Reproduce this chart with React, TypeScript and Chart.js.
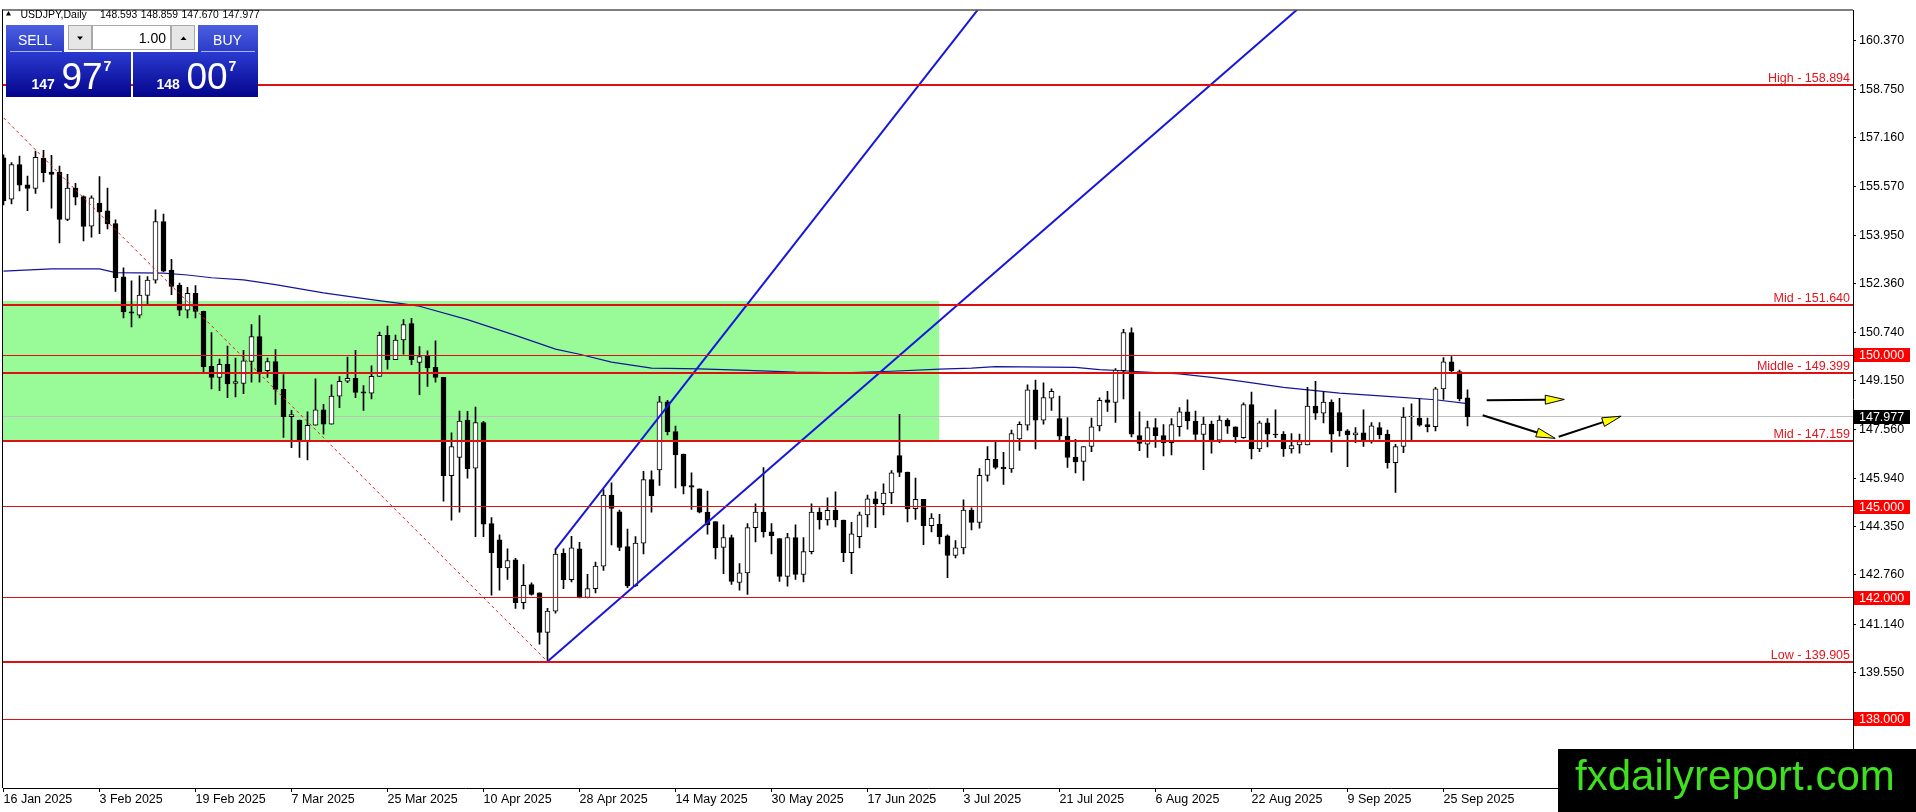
import React, { useEffect, useRef } from 'react';
import { Chart, registerables } from 'chart.js';

Chart.register(...registerables);

const FONT = 'Liberation Sans';

const symbolTitle = 'USDJPY,Daily';

const dateLabels = ['16 Jan 2025', '3 Feb 2025', '19 Feb 2025', '7 Mar 2025', '25 Mar 2025', '10 Apr 2025', '28 Apr 2025', '14 May 2025', '30 May 2025', '17 Jun 2025', '3 Jul 2025', '21 Jul 2025', '6 Aug 2025', '22 Aug 2025', '9 Sep 2025', '25 Sep 2025'];
const dateLabelBars = [0, 12, 24, 36, 48, 60, 72, 84, 96, 108, 120, 132, 144, 156, 168, 180];

const opens = [
  156.50, 155.14, 156.28, 155.61, 155.49, 156.48, 156.03, 156.03, 154.47, 155.50,
  155.22, 154.25, 155.01, 154.75, 154.33, 152.58, 151.43, 151.32, 151.97, 152.47,
  154.40, 152.80, 152.31, 151.48, 152.04, 151.44, 149.63, 149.27, 149.70, 149.07,
  149.07, 149.79, 150.61, 149.49, 149.79, 148.87, 147.97, 147.86, 147.18, 147.69,
  148.20, 147.73, 148.65, 149.14, 149.24, 148.79, 148.75, 149.30, 150.65, 149.85,
  150.50, 151.04, 149.76, 149.98, 149.60, 149.27, 146.03, 146.63, 147.86, 146.28,
  147.78, 144.45, 143.92, 142.99, 143.26, 141.85, 142.44, 142.17, 140.87, 141.57,
  143.47, 142.60, 143.62, 142.02, 142.31, 143.05, 145.39, 144.84, 143.69, 142.40,
  143.81, 145.90, 146.22, 148.46, 147.48, 146.74, 145.70, 145.60, 144.83, 144.52,
  143.67, 143.99, 142.51, 142.83, 144.32, 144.83, 144.18, 143.96, 142.71, 143.99,
  142.78, 143.53, 144.83, 144.57, 144.89, 144.57, 143.49, 144.02, 144.74, 145.27,
  145.11, 145.46, 146.69, 146.15, 144.94, 145.25, 144.38, 144.43, 144.05, 143.40,
  143.65, 144.90, 144.49, 146.04, 146.57, 146.31, 146.25, 147.24, 147.69, 148.86,
  147.86, 148.58, 147.91, 147.33, 146.64, 146.50, 146.99, 147.67, 148.53, 148.44,
  149.49, 150.74, 147.35, 147.07, 147.61, 147.35, 147.12, 147.64, 148.13, 147.83,
  147.39, 147.73, 147.20, 147.86, 147.64, 147.28, 148.37, 146.91, 147.77, 147.40,
  147.39, 146.91, 147.04, 147.04, 148.32, 148.09, 148.45, 148.11, 147.51, 147.37,
  147.44, 147.17, 147.61, 147.39, 146.46, 146.99, 147.97, 147.93, 147.71, 147.64,
  148.89, 149.78, 149.46, 148.593,
];
const highs = [
  156.60, 156.34, 156.56, 155.90, 156.72, 156.75, 156.58, 156.23, 155.96, 155.66,
  155.25, 155.25, 155.88, 155.50, 154.46, 152.88, 152.45, 152.61, 152.59, 154.79,
  154.65, 153.16, 152.37, 152.23, 152.29, 151.45, 150.74, 149.87, 150.30, 149.90,
  150.16, 151.01, 151.30, 149.90, 150.18, 149.36, 148.18, 147.86, 148.13, 149.22,
  148.38, 149.02, 149.29, 149.94, 150.16, 149.00, 149.65, 150.76, 150.96, 150.66,
  151.17, 151.21, 150.28, 150.14, 150.47, 149.27, 147.44, 148.16, 148.15, 148.29,
  147.82, 144.65, 144.08, 143.62, 143.31, 143.10, 142.50, 142.17, 141.66, 143.62,
  143.62, 144.03, 143.83, 142.78, 143.18, 145.57, 145.79, 144.90, 144.27, 144.02,
  146.17, 146.19, 148.64, 148.51, 147.66, 146.74, 146.12, 145.60, 145.52, 144.52,
  144.41, 144.07, 143.13, 144.45, 145.10, 146.30, 144.45, 143.96, 144.13, 144.41,
  143.99, 145.10, 144.97, 145.30, 145.50, 144.57, 144.49, 144.83, 145.39, 145.50,
  145.76, 146.20, 148.05, 146.15, 145.95, 145.25, 144.78, 144.76, 144.08, 143.89,
  145.23, 144.97, 146.26, 146.99, 147.15, 146.80, 147.53, 147.80, 149.02, 149.18,
  149.09, 148.89, 148.65, 147.94, 147.23, 146.99, 147.93, 148.59, 148.81, 149.56,
  150.85, 150.90, 148.13, 147.83, 147.91, 147.71, 147.91, 148.27, 148.53, 148.16,
  147.96, 147.83, 148.00, 147.91, 147.64, 148.43, 148.78, 147.83, 147.91, 148.20,
  147.48, 147.42, 147.40, 148.94, 149.14, 148.78, 148.53, 148.58, 147.55, 147.61,
  148.20, 147.78, 147.78, 147.53, 147.06, 148.27, 148.40, 148.56, 147.93, 148.94,
  149.92, 149.95, 149.51, 148.859,
];
const lows = [
  154.95, 154.98, 155.41, 154.76, 155.33, 155.71, 154.84, 153.70, 154.43, 154.95,
  153.76, 153.89, 154.00, 154.16, 152.10, 151.23, 150.93, 151.23, 151.66, 152.37,
  152.75, 151.99, 151.30, 151.23, 151.23, 149.43, 148.89, 148.83, 148.60, 148.62,
  148.73, 149.11, 149.11, 149.27, 148.38, 147.29, 146.95, 146.63, 146.55, 147.69,
  147.40, 147.73, 148.27, 149.09, 148.60, 148.18, 148.56, 149.30, 149.54, 149.85,
  150.03, 149.69, 148.70, 148.97, 149.11, 145.19, 144.56, 144.83, 145.95, 144.02,
  144.02, 142.09, 142.26, 142.61, 141.66, 141.64, 142.09, 140.48, 139.905, 141.50,
  142.31, 142.53, 142.00, 142.00, 142.17, 142.91, 143.75, 143.56, 142.34, 142.38,
  143.45, 144.83, 145.71, 147.37, 145.63, 145.43, 144.92, 144.80, 144.10, 143.29,
  142.80, 142.45, 142.26, 142.12, 143.85, 144.00, 143.45, 142.55, 142.39, 142.61,
  142.53, 143.45, 144.27, 144.40, 144.34, 143.20, 142.80, 143.65, 144.34, 144.32,
  144.74, 145.11, 146.00, 144.51, 144.59, 143.76, 144.18, 143.78, 142.67, 143.32,
  143.45, 144.24, 144.30, 145.85, 146.25, 145.74, 146.14, 146.86, 147.53, 146.91,
  147.73, 148.18, 147.15, 146.30, 146.12, 145.87, 146.82, 147.50, 148.15, 147.78,
  148.56, 147.31, 146.85, 146.63, 146.96, 146.68, 146.71, 147.33, 147.56, 147.15,
  146.23, 146.77, 147.12, 147.42, 147.12, 147.26, 146.58, 146.82, 146.98, 147.28,
  146.66, 146.77, 146.77, 147.04, 147.88, 147.77, 146.80, 147.33, 146.33, 147.12,
  146.99, 147.10, 147.24, 146.28, 145.48, 146.79, 147.18, 147.66, 147.47, 147.50,
  148.54, 149.41, 148.49, 147.670,
];
const closes = [
  155.09, 156.28, 155.60, 155.49, 156.52, 156.01, 155.95, 154.47, 155.50, 155.20,
  154.24, 155.18, 154.73, 154.32, 152.55, 151.42, 151.38, 151.98, 152.47, 154.40,
  152.77, 152.26, 151.48, 152.04, 151.44, 149.62, 149.27, 149.70, 149.05, 149.13,
  149.81, 150.61, 149.45, 149.79, 148.87, 147.97, 148.04, 147.18, 147.69, 148.20,
  147.73, 148.65, 149.14, 149.24, 148.77, 148.75, 149.30, 150.65, 149.85, 150.50,
  151.01, 149.85, 149.95, 149.58, 149.27, 146.03, 146.99, 147.83, 146.26, 147.78,
  144.43, 143.49, 143.00, 143.23, 141.85, 142.42, 142.12, 140.87, 141.57, 143.45,
  142.60, 143.65, 142.02, 142.31, 143.05, 145.39, 144.95, 143.67, 142.40, 143.81,
  145.90, 145.36, 148.46, 147.48, 146.71, 145.68, 145.65, 144.83, 144.41, 143.65,
  143.99, 142.55, 142.83, 144.32, 144.83, 144.18, 144.05, 142.71, 143.99, 142.78,
  143.53, 144.83, 144.57, 144.89, 144.57, 143.49, 144.11, 144.74, 145.27, 145.10,
  145.46, 146.12, 146.14, 144.94, 145.25, 144.38, 144.63, 144.02, 143.40, 143.65,
  144.90, 144.49, 146.04, 146.57, 146.30, 146.25, 147.42, 147.72, 148.86, 147.86,
  148.60, 148.81, 147.33, 146.63, 146.48, 146.99, 147.64, 148.51, 148.44, 149.51,
  150.74, 147.40, 147.09, 147.61, 147.35, 147.12, 147.71, 148.13, 147.83, 147.39,
  147.73, 147.20, 147.86, 147.66, 147.31, 148.37, 146.91, 147.77, 147.40, 147.37,
  146.91, 147.02, 147.15, 148.32, 148.09, 148.45, 147.40, 147.50, 147.37, 147.44,
  147.17, 147.67, 147.37, 146.46, 146.99, 147.96, 147.99, 147.69, 147.64, 148.89,
  149.78, 149.49, 148.56, 147.977,
];

const maBars = [0, 6, 12, 14, 20, 23, 26, 30, 34, 40, 46, 50, 52, 58, 64, 69, 72, 76, 81, 87, 93, 99, 105, 111, 117, 121, 124, 134, 137, 141, 147, 151, 155, 160, 167, 173, 179, 183];
const maValues = [152.77, 152.84, 152.84, 152.72, 152.70, 152.64, 152.55, 152.48, 152.32, 152.05, 151.83, 151.69, 151.61, 151.17, 150.65, 150.20, 150.03, 149.77, 149.57, 149.55, 149.50, 149.44, 149.42, 149.47, 149.54, 149.57, 149.62, 149.60, 149.52, 149.47, 149.38, 149.27, 149.13, 148.94, 148.75, 148.64, 148.53, 148.40];

const priceTicks = [160.37, 158.75, 157.16, 155.57, 153.95, 152.36, 150.74, 149.15, 147.56, 145.94, 144.35, 142.76, 141.14, 139.55];

const namedLevelNames = ['High', 'Mid', 'Middle', 'Mid', 'Low'];
const namedLevelPrices = [158.894, 151.64, 149.399, 147.159, 139.905];
const roundLevelPrices = [150.0, 145.0, 142.0, 138.0];

const zoneBars = [-1, 116.96];
const zonePrices = [151.79, 147.159];

const upperRayBars = [69, 122];
const upperRayPrices = [143.6, 161.45];
const lowerRayBars = [68, 162];
const lowerRayPrices = [139.905, 161.45];
const swingLineBars = [-0.5, 68];
const swingLinePrices = [157.95, 139.905];

const arrowStartBars = [185.4, 184.9, 194.4];
const arrowStartPrices = [148.51, 148.02, 147.31];
const arrowEndBars = [195.1, 193.96, 202.2];
const arrowEndPrices = [148.54, 147.26, 147.99];

const lotSize = '1.00';
const askPrice = 148.007;

const X_MIN = -0.0625;
const X_MAX = 231.1875;
const Y_MIN = 135.741;
const Y_MAX = 161.353;

const last = closes.length - 1;
const bidPrice = closes[last];

function splitQuote(p: number) {
  const s = p.toFixed(3);
  return [s.slice(0, 3), s.slice(4, 6), s.slice(6)];
}

function drawArrow(ctx: CanvasRenderingContext2D, x0: number, y0: number, x1: number, y1: number) {
  const ang = Math.atan2(y1 - y0, x1 - x0);
  const len = 19;
  const hw = 4.5;
  const bx = x1 - Math.cos(ang) * len;
  const by = y1 - Math.sin(ang) * len;
  ctx.strokeStyle = '#000';
  ctx.lineWidth = 2;
  ctx.beginPath();
  ctx.moveTo(x0, y0);
  ctx.lineTo(bx, by);
  ctx.stroke();
  const px = -Math.sin(ang) * hw;
  const py = Math.cos(ang) * hw;
  ctx.beginPath();
  ctx.moveTo(x1, y1);
  ctx.lineTo(bx + px, by + py);
  ctx.lineTo(bx - px, by - py);
  ctx.closePath();
  ctx.fillStyle = '#ffff00';
  ctx.fill();
  ctx.lineWidth = 1;
  ctx.stroke();
}

function grad(ctx: CanvasRenderingContext2D, y0: number, y1: number, c0: string, c1: string) {
  const g = ctx.createLinearGradient(0, y0, 0, y1);
  g.addColorStop(0, c0);
  g.addColorStop(1, c1);
  return g;
}

function drawPanel(ctx: CanvasRenderingContext2D) {
  // header
  ctx.fillStyle = '#000';
  ctx.beginPath();
  ctx.moveTo(6, 15.5);
  ctx.lineTo(11, 15.5);
  ctx.lineTo(8.5, 11);
  ctx.closePath();
  ctx.fill();
  ctx.font = `10.5px ${FONT}`;
  ctx.textAlign = 'left';
  ctx.textBaseline = 'alphabetic';
  ctx.fillText(symbolTitle, 20.5, 17.5);
  ctx.font = `10.3px ${FONT}`;
  const ohlc = [opens[last], highs[last], lows[last], closes[last]];
  ohlc.forEach((v, i) => ctx.fillText(v.toFixed(3), 100 + i * 40.8, 17.5));

  // sell / buy tabs
  ctx.fillStyle = grad(ctx, 25, 52, '#4b5fe2', '#2b3bc6');
  ctx.fillRect(6, 25, 58, 27);
  ctx.fillRect(198, 25, 60, 27);
  ctx.fillStyle = grad(ctx, 52, 97, '#2a3bd0', '#04048c');
  ctx.fillRect(6, 52, 125, 45);
  ctx.fillRect(133, 52, 125, 45);
  ctx.fillStyle = 'rgba(190,200,255,0.85)';
  ctx.fillRect(10, 51, 52, 1);
  ctx.fillRect(201, 51, 54, 1);

  // lot controls
  ctx.fillStyle = '#e6e6e6';
  ctx.fillRect(68, 25, 24, 25);
  ctx.fillRect(171, 25, 24, 25);
  ctx.fillStyle = '#fff';
  ctx.fillRect(92, 25, 79, 25);
  ctx.strokeStyle = '#a8a8a8';
  ctx.lineWidth = 1;
  ctx.strokeRect(68.5, 25.5, 23, 24);
  ctx.strokeRect(92.5, 25.5, 78, 24);
  ctx.strokeRect(171.5, 25.5, 23, 24);
  ctx.fillStyle = '#000';
  ctx.beginPath();
  ctx.moveTo(77, 36.5); ctx.lineTo(83, 36.5); ctx.lineTo(80, 40); ctx.closePath(); ctx.fill();
  ctx.beginPath();
  ctx.moveTo(180.5, 40); ctx.lineTo(186.5, 40); ctx.lineTo(183.5, 36.5); ctx.closePath(); ctx.fill();
  ctx.font = `14px ${FONT}`;
  ctx.textAlign = 'right';
  ctx.fillText(lotSize, 166, 43);

  ctx.fillStyle = '#fff';
  ctx.textAlign = 'center';
  ctx.font = `14px ${FONT}`;
  ctx.fillText('SELL', 35, 44.5);
  ctx.fillText('BUY', 227.5, 44.5);

  const drawQuote = (p: number, x: number) => {
    const [a, b, c] = splitQuote(p);
    ctx.textAlign = 'left';
    ctx.font = `bold 14px ${FONT}`;
    ctx.fillText(a, x, 88.5);
    ctx.font = `37px ${FONT}`;
    ctx.fillText(b, x + 30, 88.5);
    ctx.font = `bold 14px ${FONT}`;
    ctx.fillText(c, x + 72, 70.5);
  };
  drawQuote(bidPrice, 31.5);
  drawQuote(askPrice, 156.5);
}

const overlayPlugin = {
  id: 'mtOverlay',
  beforeDatasetsDraw(chart: any) {
    const { ctx, chartArea, scales } = chart;
    const x = scales.x;
    const y = scales.y;
    ctx.save();
    ctx.beginPath();
    ctx.rect(chartArea.left, chartArea.top, chartArea.right - chartArea.left, chartArea.bottom - chartArea.top);
    ctx.clip();
    const zx0 = x.getPixelForValue(zoneBars[0]);
    const zx1 = x.getPixelForValue(zoneBars[1]);
    const zy0 = y.getPixelForValue(zonePrices[0]);
    const zy1 = y.getPixelForValue(zonePrices[1]);
    ctx.fillStyle = '#98fb98';
    ctx.fillRect(zx0, Math.round(zy0), zx1 - zx0, Math.round(zy1) - Math.round(zy0));
    const gy = Math.round(y.getPixelForValue(bidPrice) - 0.5);
    ctx.fillStyle = '#c0c0c0';
    ctx.fillRect(chartArea.left, gy, chartArea.right - chartArea.left, 1);
    ctx.restore();
  },
  afterDatasetsDraw(chart: any) {
    const { ctx, chartArea, scales } = chart;
    const x = scales.x;
    const y = scales.y;
    const w = chartArea.right - chartArea.left;
    ctx.save();
    ctx.fillStyle = '#dd1111';
    roundLevelPrices.forEach((p) => {
      const py = Math.round(y.getPixelForValue(p) - 0.5);
      ctx.fillRect(chartArea.left, py, w, 1);
    });
    namedLevelPrices.forEach((p) => {
      const py = Math.round(y.getPixelForValue(p));
      ctx.fillRect(chartArea.left, py - 1, w, 2);
    });
    ctx.font = `12.5px ${FONT}`;
    ctx.textAlign = 'right';
    ctx.textBaseline = 'alphabetic';
    ctx.fillStyle = '#e3141c';
    namedLevelPrices.forEach((p, i) => {
      const py = Math.round(y.getPixelForValue(p));
      ctx.fillText(`${namedLevelNames[i]} - ${p.toFixed(3)}`, chartArea.right - 3, py - 3);
    });
    for (let i = 0; i < arrowStartBars.length; i++) {
      drawArrow(
        ctx,
        x.getPixelForValue(arrowStartBars[i]),
        y.getPixelForValue(arrowStartPrices[i]),
        x.getPixelForValue(arrowEndBars[i]),
        y.getPixelForValue(arrowEndPrices[i]),
      );
    }
    ctx.restore();
  },
  afterDraw(chart: any) {
    const { ctx, chartArea, scales } = chart;
    const y = scales.y;
    ctx.save();
    ctx.fillStyle = '#000';
    ctx.fillRect(chartArea.left - 1, chartArea.top - 1, chartArea.right - chartArea.left + 1, 1);
    ctx.fillRect(chartArea.left - 1, chartArea.top - 1, 1, chartArea.bottom - chartArea.top + 1);

    ctx.font = `12.5px ${FONT}`;
    ctx.textAlign = 'left';
    ctx.textBaseline = 'middle';
    const boxX = chartArea.right + 1;
    roundLevelPrices.forEach((p) => {
      const py = y.getPixelForValue(p);
      ctx.fillStyle = '#ff0000';
      ctx.fillRect(boxX, Math.round(py - 7), 56, 14);
      ctx.fillStyle = '#fff';
      ctx.fillText(p.toFixed(3), chartArea.right + 6, py + 0.5);
    });
    const cy = y.getPixelForValue(bidPrice);
    ctx.fillStyle = '#000';
    ctx.fillRect(boxX, Math.round(cy - 7), 56, 14);
    ctx.fillStyle = '#fff';
    ctx.fillText(bidPrice.toFixed(3), chartArea.right + 6, cy + 0.5);

    drawPanel(ctx);

    ctx.fillStyle = '#000';
    ctx.fillRect(1558, 749, 358, 63);
    ctx.fillStyle = '#3ee01f';
    ctx.font = `42px ${FONT}`;
    ctx.textAlign = 'left';
    ctx.textBaseline = 'alphabetic';
    ctx.fillText('fxdailyreport.com', 1575, 790);
    ctx.restore();
  },
};

export default function App() {
  const ref = useRef<HTMLCanvasElement>(null);
  useEffect(() => {
    const canvas = ref.current;
    if (!canvas) return;
    const tickFont = { family: FONT, size: 12.5 };
    const bodies = opens.map((o, i) => ({ x: i, y: [o, closes[i]] }));
    const wicks = lows.map((l, i) => ({ x: i, y: [l, highs[i]] }));
    const lineOf = (bars: number[], prices: number[]) => bars.map((b, i) => ({ x: b, y: prices[i] }));
    const chart = new Chart(canvas, {
      type: 'bar',
      data: {
        datasets: [
          {
            type: 'line',
            data: lineOf(maBars, maValues) as any,
            borderColor: '#14149a',
            borderWidth: 1.2,
            pointRadius: 0,
            tension: 0,
            order: 9,
          } as any,
          {
            type: 'bar',
            data: wicks as any,
            backgroundColor: '#000',
            borderWidth: 0,
            barThickness: 1,
            grouped: false,
            order: 8,
          } as any,
          {
            type: 'bar',
            data: bodies as any,
            backgroundColor: opens.map((o, i) => (closes[i] >= o ? '#ffffff' : '#000000')),
            borderColor: '#000',
            borderWidth: 1,
            borderSkipped: false,
            barThickness: 5,
            grouped: false,
            order: 7,
          } as any,
          {
            type: 'line',
            data: lineOf(swingLineBars, swingLinePrices) as any,
            borderColor: '#e01818',
            borderWidth: 1,
            borderDash: [3, 3],
            pointRadius: 0,
            order: 5,
            clip: 0,
          } as any,
          {
            type: 'line',
            data: lineOf(upperRayBars, upperRayPrices) as any,
            borderColor: '#1616dc',
            borderWidth: 2,
            pointRadius: 0,
            order: 4,
            clip: 0,
          } as any,
          {
            type: 'line',
            data: lineOf(lowerRayBars, lowerRayPrices) as any,
            borderColor: '#1616dc',
            borderWidth: 2,
            pointRadius: 0,
            order: 4,
            clip: 0,
          } as any,
        ],
      },
      options: {
        responsive: false,
        animation: false,
        devicePixelRatio: 1,
        events: [],
        layout: { padding: { left: 3, top: 3, right: 0, bottom: 0 } },
        plugins: { legend: { display: false }, tooltip: { enabled: false } },
        scales: {
          x: {
            type: 'linear',
            min: X_MIN,
            max: X_MAX,
            offset: false,
            grid: { drawOnChartArea: false, drawTicks: true, tickLength: 4, color: '#000', offset: false },
            border: { display: true, color: '#000' },
            ticks: {
              autoSkip: false,
              maxRotation: 0,
              minRotation: 0,
              align: 'start',
              padding: 0,
              color: '#000',
              font: tickFont,
              callback: (v: any) => {
                const i = dateLabelBars.indexOf(Number(v));
                return i >= 0 ? dateLabels[i] : '';
              },
            },
            afterBuildTicks: (s: any) => {
              s.ticks = dateLabelBars.map((v) => ({ value: v }));
            },
            afterFit: (s: any) => {
              s.height = 24;
            },
          },
          y: {
            type: 'linear',
            position: 'right',
            min: Y_MIN,
            max: Y_MAX,
            beginAtZero: false,
            grid: { drawOnChartArea: false, drawTicks: true, tickLength: 3, color: '#000' },
            border: { display: true, color: '#000' },
            ticks: {
              padding: 3,
              color: '#000',
              font: tickFont,
              callback: (v: any) => Number(v).toFixed(3),
            },
            afterBuildTicks: (s: any) => {
              s.ticks = priceTicks.map((v) => ({ value: v }));
            },
            afterFit: (s: any) => {
              s.width = 63;
            },
          },
        },
      } as any,
      plugins: [overlayPlugin as any],
    });
    return () => chart.destroy();
  }, []);
  return (
    <div style={{ position: 'absolute', left: 0, top: 0, width: 1916, height: 812, background: '#fff' }}>
      <canvas ref={ref} width={1916} height={812} style={{ display: 'block', width: 1916, height: 812 }} />
    </div>
  );
}
